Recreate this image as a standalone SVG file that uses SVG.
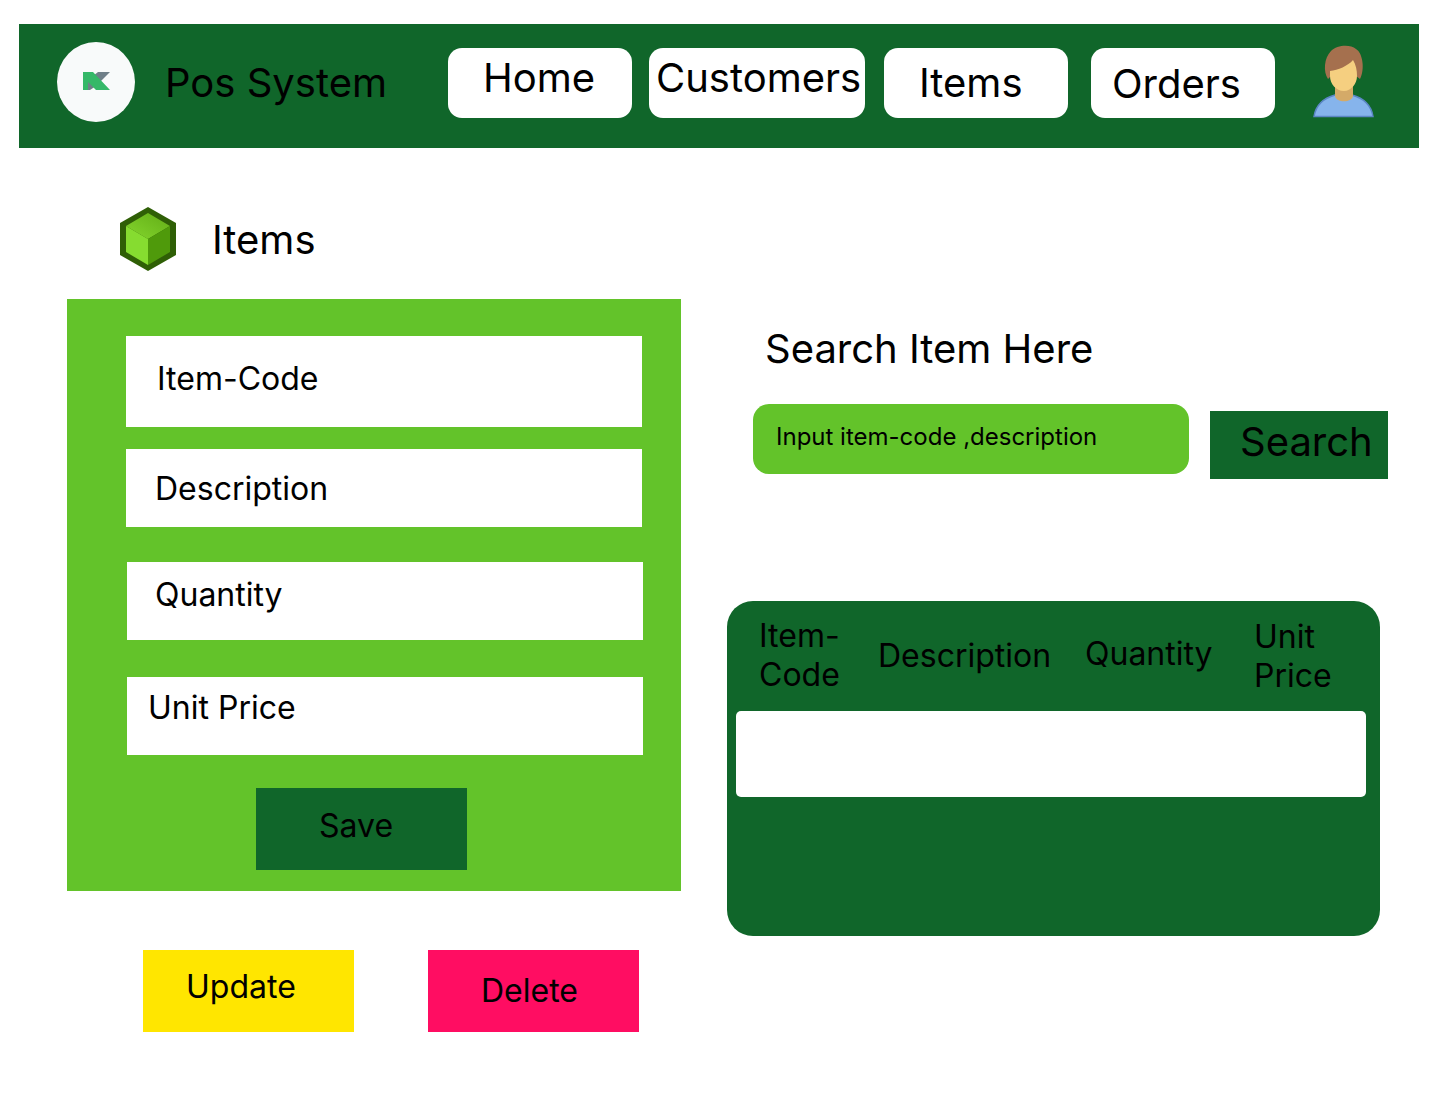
<svg xmlns="http://www.w3.org/2000/svg" width="1440" height="1106" viewBox="0 0 1440 1106">
<defs>
<linearGradient id="cubeTop" x1="0" y1="1" x2="1" y2="0"><stop offset="0" stop-color="#84d62e"/><stop offset="1" stop-color="#62ad16"/></linearGradient>
</defs>
<style>
text{font-family:Inter,"Liberation Sans",sans-serif;fill:#000;font-weight:400}
.dark{fill:#10662a}
.lime{fill:#63c32a}
.white{fill:#fff}
.t40{font-size:40px}
.t32{font-size:32px}
</style>
<rect width="1440" height="1106" fill="#fff"/>
<g id="navbar">
<rect class="dark" x="19" y="24" width="1400" height="124"/>
<text x="165" y="97" class="t40">Pos System</text>
</g>
<g id="logo">
<ellipse cx="96" cy="82" rx="39" ry="40" fill="#f8fafa"/>
<polygon points="98,72 110,72 96,86 90,90 88,90 88,80" fill="#6f7f88"/>
<polygon points="83,72 93,72 110,90 96,90 88,82 88,90 83,90" fill="#35b868"/>
</g>
<g id="nav-home"><rect class="white" x="448" y="48" width="184" height="70" rx="14"/><text x="483" y="92" class="t40">Home</text></g>
<g id="nav-customers"><rect class="white" x="649" y="48" width="216" height="70" rx="14"/><text x="656" y="92" class="t40">Customers</text></g>
<g id="nav-items"><rect class="white" x="884" y="48" width="184" height="70" rx="14"/><text x="919" y="97" class="t40">Items</text></g>
<g id="nav-orders"><rect class="white" x="1091" y="48" width="184" height="70" rx="14"/><text x="1112" y="98" class="t40">Orders</text></g>
<g id="avatar">
<path d="M1314 116.500C1316 104 1324 98 1335 95L1352 95C1363 98 1371 104 1373 116.500Z" fill="#86b4ec" stroke="#5b86c4" stroke-width="1.500"/>
<path d="M1335 84H1353V96C1352 103 1336 103 1335 96Z" fill="#d4aa68"/>
<path d="M1328 79C1323 72 1324 58 1331 51C1337 45 1350 44 1356 49C1363 53 1365 70 1360 79L1356 76H1331Z" fill="#a5704e"/>
<path d="M1330 71C1338 70 1348 66 1353 60C1356 65 1357 70 1357 76C1357 84 1351 91 1344 91C1336 91 1330 84 1330 76Z" fill="#f5cf80"/>
</g>
<g id="items-heading">
<polygon points="148,207 176,223 176,255 148,271 120,255 120,223" fill="#2f5f06"/>
<polygon points="148,213 170,226 148,239 126,226" fill="url(#cubeTop)"/>
<polygon points="126,226 148,239 148,265 126,252" fill="#86dc30"/>
<polygon points="170,226 148,239 148,265 170,252" fill="#4f9a0b"/>
<text x="212" y="254" class="t40">Items</text>
</g>
<g id="item-form">
<rect class="lime" x="67" y="299" width="614" height="592"/>
</g>
<g id="field-code"><rect class="white" x="126" y="336" width="516" height="91"/><text x="157" y="390" class="t32">Item-Code</text></g>
<g id="field-description"><rect class="white" x="126" y="449" width="516" height="78"/><text x="155" y="500" class="t32">Description</text></g>
<g id="field-quantity"><rect class="white" x="127" y="562" width="516" height="78"/><text x="155" y="606" class="t32">Quantity</text></g>
<g id="field-price"><rect class="white" x="127" y="677" width="516" height="78"/><text x="148" y="719" class="t32">Unit Price</text></g>
<g id="save"><rect class="dark" x="256" y="788" width="211" height="82"/><text x="319" y="837" class="t32">Save</text></g>
<g id="update"><rect x="143" y="950" width="211" height="82" fill="#ffe600"/><text x="186" y="998" class="t32">Update</text></g>
<g id="delete"><rect x="428" y="950" width="211" height="82" fill="#ff0d62"/><text x="481" y="1002" class="t32">Delete</text></g>
<g id="search-heading"><text x="765" y="363" class="t40">Search Item Here</text></g>
<g id="search-input"><rect class="lime" x="753" y="404" width="436" height="70" rx="16"/><text x="776" y="445" font-size="24">Input item-code ,description</text></g>
<g id="search-button"><rect class="dark" x="1210" y="411" width="178" height="68"/><text x="1240" y="456" class="t40">Search</text></g>
<g id="table">
<rect class="dark" x="727" y="601" width="653" height="335" rx="26"/>
<rect class="white" x="736" y="711" width="630" height="86" rx="5"/>
<text x="759" y="647" class="t32">Item-</text>
<text x="759" y="686" class="t32">Code</text>
<text x="878" y="667" class="t32">Description</text>
<text x="1085" y="665" class="t32">Quantity</text>
<text x="1254" y="648" class="t32">Unit</text>
<text x="1254" y="687" class="t32">Price</text>
</g>
<g id="connectors"/>
</svg>
